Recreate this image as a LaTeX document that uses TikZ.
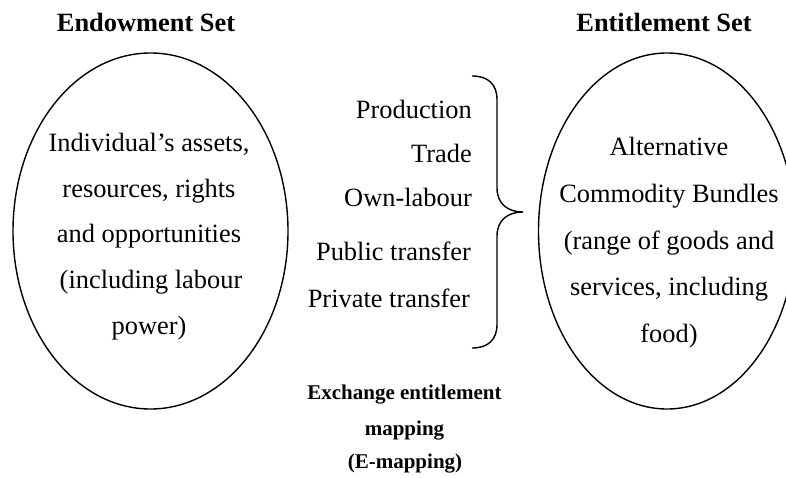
\documentclass[tikz,border=0pt]{standalone}
\usepackage{fontspec}
\setmainfont{Liberation Serif}
\usetikzlibrary{shapes.geometric}
\begin{document}
\begin{tikzpicture}[x=1pt,y=-1pt,
  setshape/.style={draw, ellipse, line width=1.4pt, inner sep=0pt, minimum width=#1, minimum height=356pt},
  body/.style={anchor=base, inner sep=0pt, font=\fontsize{26.4}{30}\selectfont},
  settitle/.style={anchor=base, inner sep=0pt, font=\fontsize{26.4}{30}\selectfont\bfseries},
  capline/.style={anchor=base, inner sep=0pt, font=\fontsize{21}{24}\selectfont\bfseries},
  item/.style={anchor=base east, inner sep=0pt, font=\fontsize{26.4}{30}\selectfont},
  bracestyle/.style={line width=1.4pt},
]
\useasboundingbox (0,0) rectangle (786,478);
\clip (0,0) rectangle (786,478);

% titles
\node[settitle] (t1) at (146,32) {Endowment Set};
\node[settitle] (t2) at (664,32) {Entitlement Set};

% ellipses
\node[setshape=275pt] (endow) at (150.5,231) {};
\node[setshape=257pt] (entit) at (667,231) {};

% left text
\node[body] (l1) at (149,152) {Individual’s assets,};
\node[body] (l2) at (149,197.5) {resources, rights};
\node[body] (l3) at (149,243) {and opportunities};
\node[body] (l4) at (151,288.5) {(including labour};
\node[body] (l5) at (149,334) {power)};

% right text
\node[body] (r1) at (669,156) {Alternative};
\node[body] (r2) at (669,202.5) {Commodity Bundles};
\node[body] (r3) at (669,249) {(range of goods and};
\node[body] (r4) at (669,295.5) {services, including};
\node[body] (r5) at (669,342) {food)};

% items
\node[item] (i1) at (472,119) {Production};
\node[item] (i2) at (472,163) {Trade};
\node[item] (i3) at (472,207) {Own-labour};
\node[item] (i4) at (471,260) {Public transfer};
\node[item] (i5) at (470,307) {Private transfer};

% brace
\coordinate (btop) at (472,76);
\coordinate (btip) at (523,212);
\coordinate (bbot) at (472,348);
\draw[bracestyle] (btop) .. controls (488,76) and (497,84) .. (497,100) -- (497,188)
  .. controls (497,204) and (508,212) .. (btip)
  .. controls (508,212) and (497,220) .. (497,236) -- (497,324)
  .. controls (497,340) and (488,348) .. (bbot);

% caption
\node[capline] (c1) at (404.5,399) {Exchange entitlement};
\node[capline] (c2) at (404.5,435) {mapping};
\node[capline] (c3) at (405,468) {(E-mapping)};
\end{tikzpicture}
\end{document}
